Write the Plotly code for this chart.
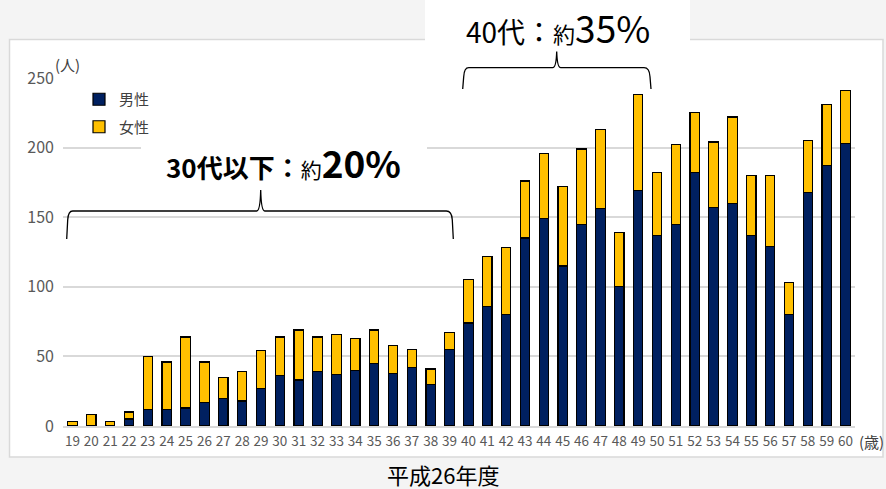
import plotly.graph_objects as go

ages = ["19","20","21","22","23","24","25","26","27","28","29","30","31","32","33","34","35","36","37","38","39",
        "40","41","42","43","44","45","46","47","48","49","50","51","52","53","54","55","56","57","58","59","60"]
male = [0,0,0,5,12,12,13,17,20,18,27,36,33,39,37,40,45,38,42,30,55,
        74,86,80,135,149,115,145,156,100,169,137,145,182,157,160,137,129,80,168,187,203]
female = [3,8,3,5,38,34,51,29,15,21,27,28,36,25,29,23,24,20,13,11,12,
          31,36,48,41,47,57,54,57,39,69,45,57,43,47,62,43,51,23,37,44,38]
series_names = ["男性", "女性"]
y_ticks = [0, 50, 100, 150, 200, 250]

W, H = 886, 489
L, R, T, B = 63, 31, 78, 63
PW, PH = W - L - R, H - T - B

def px(x):
    return (x - L) / PW

def py(y):
    return (H - B - y) / PH

def brace(x0, x1, xm, yh, yb, yp):
    pts = [("M", [(x0, yb)]), ("L", [(x0 + 1, yh + 9)]), ("Q", [(x0 + 1.5, yh), (x0 + 6, yh)]),
           ("L", [(xm - 4, yh)]), ("Q", [(xm - 0.5, yh), (xm, yp)]), ("Q", [(xm + 0.5, yh), (xm + 4, yh)]),
           ("L", [(x1 - 7, yh)]), ("Q", [(x1 - 1.5, yh), (x1 - 1, yh + 9)]), ("L", [(x1, yb)])]
    s = ""
    for cmd, ps in pts:
        s += cmd + " ".join(f"{px(a):.5f},{py(b):.5f}" for a, b in ps) + " "
    return s.strip()

FONT = "Noto Sans CJK JP"
NAVY = "#002060"
GOLD = "#FFC000"

fig = go.Figure()
fig.add_trace(go.Bar(x=ages, y=male, name=series_names[0], legendgroup="m",
                     marker=dict(color=NAVY, line=dict(color="black", width=1.2))))
fig.add_trace(go.Bar(x=ages, y=female, name=series_names[1], legendgroup="f",
                     marker=dict(color=GOLD, line=dict(color="black", width=1.2))))

shapes = [
    dict(type="rect", xref="paper", yref="paper", x0=px(9.5), x1=px(883), y0=py(457), y1=py(39.5),
         fillcolor="white", line=dict(color="#d9d9d9", width=1.5), layer="below"),
    dict(type="rect", xref="paper", yref="paper", x0=px(425), x1=px(690), y0=py(41), y1=py(-5),
         fillcolor="white", line=dict(width=0), layer="below"),
    dict(type="rect", xref="paper", yref="paper", x0=px(141), x1=px(427), y0=py(186), y1=py(139),
         fillcolor="white", line=dict(width=0), layer="above"),
    dict(type="path", xref="paper", yref="paper", path=brace(66.7, 453.3, 260.7, 211, 239, 190),
         line=dict(color="black", width=1.3), layer="above"),
    dict(type="path", xref="paper", yref="paper", path=brace(462.7, 651, 556.7, 67.7, 89, 51.5),
         line=dict(color="black", width=1.3), layer="above"),
]

annotations = [
    dict(text="40代：<span style='font-size:22px'>約</span><span style='font-size:37px'>35%</span>",
         x=px(557.5), y=py(27), xref="paper", yref="paper", showarrow=False,
         xanchor="center", yanchor="middle", font=dict(family=FONT, size=28, color="black")),
    dict(text="<b>30代以下：</b><span style='font-size:21px'>約</span><b><span style='font-size:37px'>20%</span></b>",
         x=px(283), y=py(162), xref="paper", yref="paper", showarrow=False,
         xanchor="center", yanchor="middle", font=dict(family=FONT, size=26, color="black")),
    dict(text="(人)", x=px(67), y=py(64), xref="paper", yref="paper", showarrow=False,
         xanchor="center", yanchor="middle", font=dict(family=FONT, size=15, color="#404040")),
    dict(text="(歳)", x=px(857), y=py(441), xref="paper", yref="paper", showarrow=False,
         xanchor="left", yanchor="middle", font=dict(family=FONT, size=15, color="#404040")),
    dict(text="平成26年度", x=px(443), y=py(474), xref="paper", yref="paper", showarrow=False,
         xanchor="center", yanchor="middle", font=dict(family=FONT, size=22, color="black")),
]

fig.update_layout(
    width=W, height=H,
    margin=dict(l=L, r=R, t=T, b=B, pad=0),
    paper_bgcolor="#f4f4f4", plot_bgcolor="rgba(0,0,0,0)",
    barmode="stack", bargap=0.5,
    font=dict(family=FONT),
    shapes=shapes, annotations=annotations,
    showlegend=True,
    legend=dict(x=px(79), y=py(83), xanchor="left", yanchor="top", traceorder="grouped",
                tracegroupgap=5, bgcolor="rgba(0,0,0,0)", font=dict(family=FONT, size=15, color="#404040"),
                itemclick=False),
    xaxis=dict(type="category", showline=True, linecolor="#d9d9d9", linewidth=1.5, ticks="",
               ticklabelstandoff=2,
               tickfont=dict(family=FONT, size=13.5, color="#595959"), showgrid=False, fixedrange=True),
    yaxis=dict(range=[0, 250], tickvals=y_ticks, showgrid=True, gridcolor="#d9d9d9", gridwidth=1.5,
               zeroline=False, ticks="", ticklabelstandoff=8,
               tickfont=dict(family=FONT, size=16, color="#595959"), fixedrange=True),
)

fig.write_html("out.html")
